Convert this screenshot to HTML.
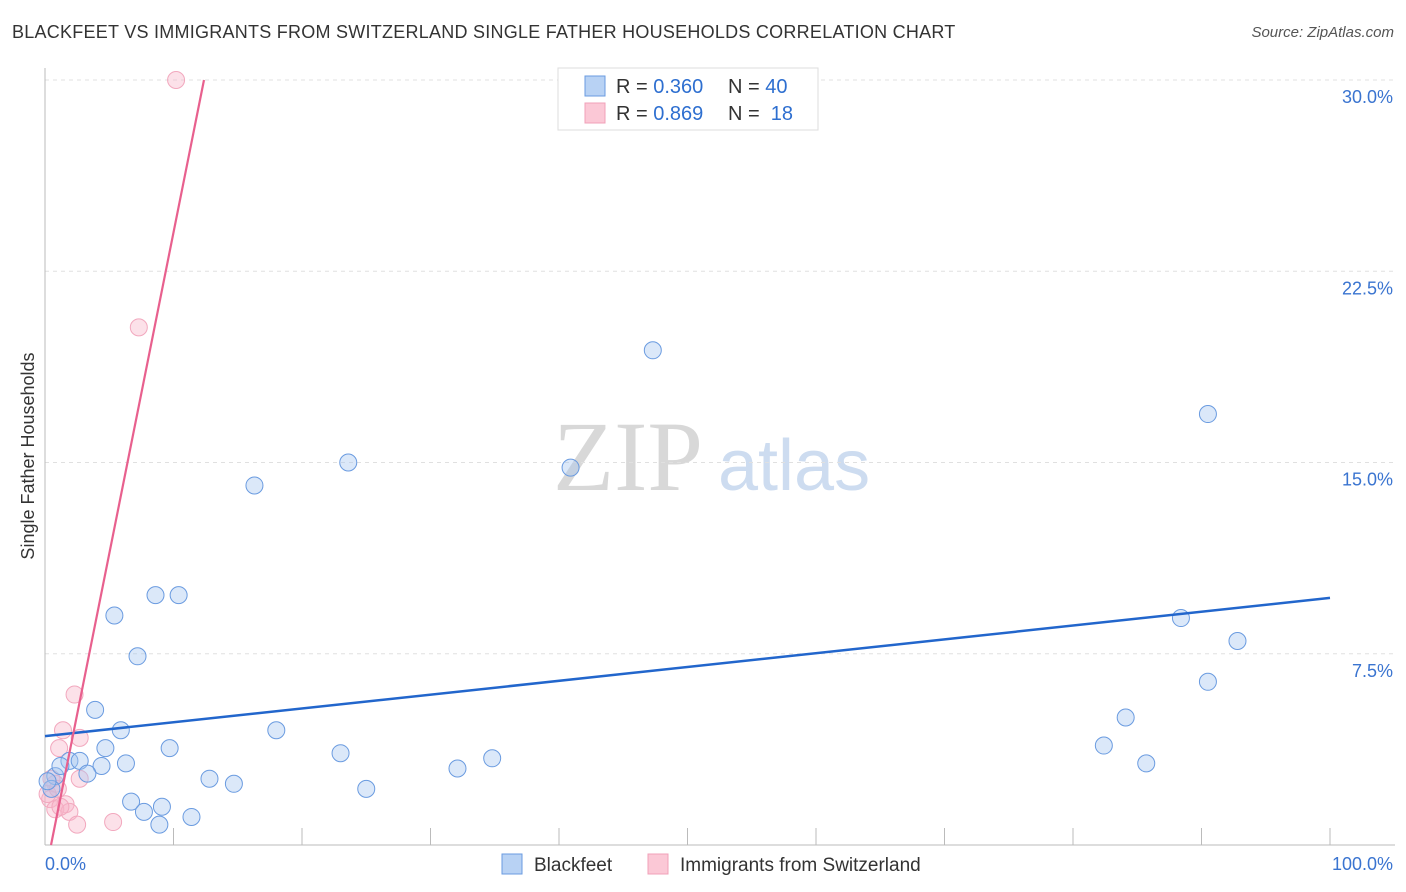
<!DOCTYPE html>
<html><head><meta charset="utf-8">
<style>
body{margin:0;background:#fff;font-family:"Liberation Sans",sans-serif;}
#wrap{position:relative;width:1406px;height:892px;overflow:hidden;}
.title{position:absolute;left:12px;top:22px;font-size:18px;color:#333;letter-spacing:0.25px;}
.source{position:absolute;right:12px;top:24px;font-size:15px;color:#555;font-style:italic;}
</style></head><body>
<div id="wrap">
<div class="title">BLACKFEET VS IMMIGRANTS FROM SWITZERLAND SINGLE FATHER HOUSEHOLDS CORRELATION CHART</div>
<div class="source">Source: ZipAtlas.com</div>
<svg id="svg" width="1406" height="892" style="position:absolute;left:0;top:0"></svg>
</div>
<script>
const blueX=[90.5,47.3,23.6,40.9,16.3,8.6,10.4,5.4,7.2,88.4,92.8,90.5,3.9,5.9,18.0,84.1,82.4,4.7,9.7,23.0,34.8,85.7,32.1,6.3,4.4,1.9,2.7,3.3,12.8,14.7,25.0,6.7,9.1,7.7,11.4,8.9,0.8,0.5,1.2,0.2];
const blueY=[16.9,19.4,15.0,14.8,14.1,9.8,9.8,9.0,7.4,8.9,8.0,6.4,5.3,4.5,4.5,5.0,3.9,3.8,3.8,3.6,3.4,3.2,3.0,3.2,3.1,3.3,3.3,2.8,2.6,2.4,2.2,1.7,1.5,1.3,1.1,0.8,2.7,2.2,3.1,2.5];
const pinkX=[10.2,7.3,2.3,1.4,2.7,1.1,2.7,0.8,0.4,1.6,0.8,1.9,1.2,5.3,2.5,0.5,0.2,1.0];
const pinkY=[30.0,20.3,5.9,4.5,4.2,3.8,2.6,2.4,1.8,1.6,1.4,1.3,1.5,0.9,0.8,2.6,2.0,2.2];
const yTicks=[7.5,15.0,22.5,30.0];
const blueLine=[4.27,9.69];
const pinkLine=[-1.18,2.52];
const X0=45,X1=1330,Y0=845,PY=25.5;
const sx=v=>X0+(X1-X0)*v/100, sy=v=>Y0-v*PY;
const svg=document.getElementById('svg');const NS='http://www.w3.org/2000/svg';
function mk(t,a,p){const e=document.createElementNS(NS,t);for(const k in a)e.setAttribute(k,a[k]);(p||svg).appendChild(e);return e;}
let w=mk('text',{x:553,y:490,'font-size':100,'font-family':'Liberation Serif',fill:'#d8d8d8'});w.textContent='ZIP';


let w2=mk('text',{x:718,y:490,'font-size':72,'font-family':'Liberation Sans',fill:'#cddcf0'});w2.textContent='atlas';


yTicks.forEach(t=>{let l=mk('line',{x1:X0,x2:1395,y1:sy(t),y2:sy(t),stroke:'#e0e0e0','stroke-dasharray':'4,4'});


let tx=mk('text',{x:1393,y:sy(t)+23,'text-anchor':'end','font-size':18,fill:'#3a74d0'});tx.textContent=t.toFixed(1)+'%';

});
mk('line',{x1:X0,x2:X0,y1:68,y2:Y0,stroke:'#bbb'});
mk('line',{x1:X0,x2:1395,y1:Y0,y2:Y0,stroke:'#bbb'});
for(let i=1;i<=10;i++){let l=mk('line',{x1:sx(i*10),x2:sx(i*10),y1:828,y2:Y0,stroke:'#bbb'});

}
let xl=mk('text',{x:45,y:870,'font-size':18,fill:'#3a74d0'});xl.textContent='0.0%';


let xr=mk('text',{x:1393,y:870,'text-anchor':'end','font-size':18,fill:'#3a74d0'});xr.textContent='100.0%';


let yt=mk('text',{x:34,y:456,'font-size':18,fill:'#333','text-anchor':'middle',transform:'rotate(-90 34 456)'});yt.textContent='Single Father Households';


pinkX.forEach((v,i)=>{let c=mk('circle',{cx:sx(v),cy:sy(pinkY[i]),r:8.5,fill:'rgba(248,180,200,0.4)',stroke:'#f2a8be','stroke-width':1});

});
blueX.forEach((v,i)=>{let c=mk('circle',{cx:sx(v),cy:sy(blueY[i]),r:8.5,fill:'rgba(165,198,240,0.4)',stroke:'#6a9be0','stroke-width':1});

});
let bl=mk('line',{x1:sx(0),y1:sy(blueLine[0]),x2:sx(100),y2:sy(blueLine[1]),stroke:'#2266cc','stroke-width':2.5});


const px0=-pinkLine[0]/pinkLine[1], px1=(30-pinkLine[0])/pinkLine[1];
let pl=mk('line',{x1:sx(px0),y1:sy(0),x2:sx(px1),y2:sy(30),stroke:'#e8608e','stroke-width':2.2});


let lg=mk('g',{});


mk('rect',{x:558,y:68,width:260,height:62,fill:'#fff',stroke:'#ddd'},lg);
mk('rect',{x:585,y:76,width:20,height:20,fill:'#b8d2f4',stroke:'#6a9be0'},lg);
mk('rect',{x:585,y:103,width:20,height:20,fill:'#fbc8d6',stroke:'#f0a0b8'},lg);
[['0.360','40',93],['0.869','18',120]].forEach(r=>{
let t=mk('text',{x:616,y:r[2],'font-size':20,fill:'#333'},lg);t.innerHTML='R = <tspan fill="#2e6fd0">'+r[0]+'</tspan>';


let n=mk('text',{x:728,y:r[2],'font-size':20,fill:'#333'},lg);n.innerHTML='N = <tspan fill="#2e6fd0">'+(r[1]=='18'?'\u00a0':'')+r[1]+'</tspan>';

});
let b1=mk('rect',{x:502,y:854,width:20,height:20,fill:'#b8d2f4',stroke:'#6a9be0'});


let bt=mk('text',{x:534,y:871,'font-size':19,fill:'#333'});bt.textContent='Blackfeet';


let b2=mk('rect',{x:648,y:854,width:20,height:20,fill:'#fbc8d6',stroke:'#f0a0b8'});


let pt=mk('text',{x:680,y:871,'font-size':19,fill:'#333'});pt.textContent='Immigrants from Switzerland';


</script>
</body></html>
